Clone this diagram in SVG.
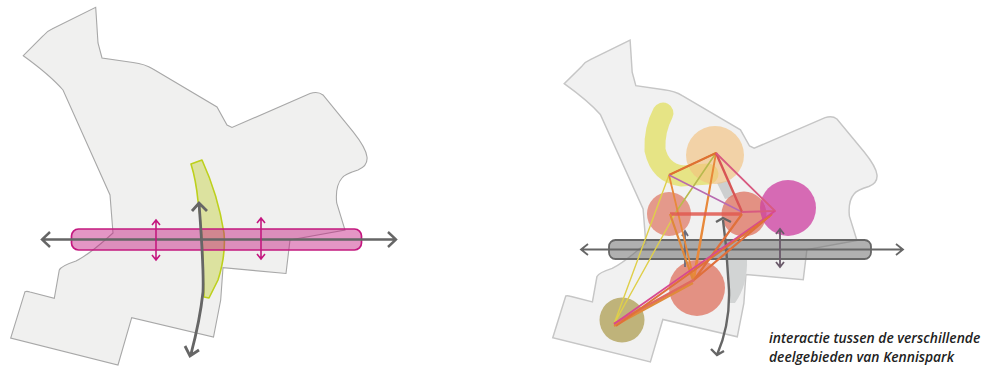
<svg xmlns="http://www.w3.org/2000/svg" width="982" height="366" viewBox="0 0 982 366">
<style>
.map{fill:#f0f0ef;stroke:#a8a8a8;stroke-width:1.1}
.g{fill:none;stroke:#666;stroke-width:2.4;stroke-linejoin:miter}
.g2{fill:none;stroke:#666;stroke-width:1.8}
.m{fill:none;stroke:#c4197f;stroke-width:1.6}
.l{fill:none;stroke-linejoin:round}
.soft{filter:url(#soft)}
text{font-family:"Open Sans","Noto Sans",sans-serif;font-style:italic;font-size:13.850px;fill:#222;font-weight:600}
</style>
<defs>
<filter id="soft" filterUnits="userSpaceOnUse" x="0" y="0" width="982" height="366"><feGaussianBlur stdDeviation=".45"/></filter>
<path id="outline" d="M95.700 7.300L98 43L102 58L133 62.500Q145 64 153 69L217 107L227 125L232 127.500L310 93.500Q318 91 323 95L353 131.700Q366 148 367 157Q368 166 358 170Q345 174 342 178Q335 186 336.700 203L345 230L290 240L286 273.500L223 267.700L220.700 300L213.500 337L131.700 317.700L118 365L10.700 338L25 291.700Q27 291 30 292L54.300 298.300L59.300 270Q61 266 76 261Q90 254 113 233L110 195L63 90Q50 75 23.300 55.700L43 36Q47 31 52 29Z"/>
</defs>
<rect width="982" height="366" fill="#fff"/>
<g id="map-left" class="soft">
<use href="#outline" class="map"/>
</g>
<g id="map-right" class="soft">
<use href="#outline" class="map" transform="translate(543 33.500) scale(.91 .9)" style="stroke-width:1.6;stroke:#c6c6c6;fill:#f1f1f1"/>
</g>
<g id="green-zone-left" class="soft">
<path d="M191 164L202 160Q218 195 224 233Q226 255 218 280L209 298L204 297L203 270Q203 235 198 201Q196 180 191 164Z" fill="#cfd86a" fill-opacity=".6" stroke="#bdd01c" stroke-width="1.6" stroke-linejoin="round"/>
</g>
<g id="bar-left" class="soft">
<rect x="71.500" y="229" width="290" height="21" rx="7" fill="#c4197f" fill-opacity=".45" stroke="#c4197f" stroke-width="1.7"/>
</g>
<g id="connectors-left" class="soft">
<path class="g" d="M43 239.500H395M50 232L42 239.500L50 247M388 232L396 239.500L388 247"/>
<path class="g" style="stroke-width:2.800" d="M199 203Q204 270 203 292Q200 320 191 354M192 211L199 203L207 211M185 346L190 356L199 350"/>
<path class="m" d="M156 221V259M152 225L156 220L160 225M152 255L156 260L160 255"/>
<path class="m" d="M261 219V258M257 223L261 218L265 223M257 254L261 259L265 254"/>
</g>
<g id="zone-u" class="soft">
<path d="M663 113Q654 130 655 150Q660 173 682 176L708 174" fill="none" stroke="#e0dc3e" stroke-opacity=".6" stroke-width="21" stroke-linecap="round"/>
</g>
<g id="zone-gray" class="soft">
<path d="M717 183L730 180L733 197L725 199Z" fill="#cdcfcf"/>
<path d="M728 258L747 258Q748 285 735 303L729 303Z" fill="#d2d4d4"/>
</g>
<g id="circles" class="soft">
<circle id="c-orange" cx="715" cy="155" r="29" fill="#f2c27e" fill-opacity=".65"/>
<circle id="c-red1" cx="669" cy="214" r="22" fill="#dd6a55" fill-opacity=".65"/>
<circle id="c-red2" cx="744" cy="214" r="22.500" fill="#dd6a55" fill-opacity=".7"/>
<circle id="c-magenta" cx="788" cy="208" r="28" fill="#cc3fa0" fill-opacity=".75"/>
<circle id="c-red3" cx="697" cy="288" r="28" fill="#dd6a55" fill-opacity=".7"/>
<circle id="c-olive" cx="622" cy="320" r="22.500" fill="#a59139" fill-opacity=".65"/>
</g>
<g id="bar-right" class="soft">
<rect x="609" y="240" width="262" height="19" rx="6.500" fill="#6f6f6f" fill-opacity=".55" stroke="#666" stroke-width="1.800"/>
</g>
<g id="connectors-right" class="soft">
<path class="g2" d="M582 249.500H902M588 244L581 249.500L588 255M896 244L903 249.500L896 255"/>
<path class="g" d="M723 220L726 246L729 290Q730 325 717 355M716 222L723 218L731 222M711 349L717 355L724 351"/>
<path class="g" style="stroke:#6a6a7a;stroke-width:1.800" d="M685 232V267M682 236L685 231L688 236"/>
<path class="g" style="stroke:#6a5a6a;stroke-width:1.800" d="M780 230V266M776 234L780 229L784 234M776 262L780 267L784 262"/>
<g>
<path class="l" stroke="#dfcf4a" stroke-width="1.400" d="M614 324L669 175M614 324L676 212"/>
<path class="l" stroke="#b9b94e" stroke-width="1.600" d="M669 175L716 153M676 212L716 153"/>
<path class="l" stroke="#e8893a" stroke-width="1.800" d="M669 175L694 280L716 153L693 280"/>
<path class="l" stroke="#e07030" stroke-width="2" d="M669 175L716 153"/>
<path class="l" stroke="#b96ab0" stroke-width="1.500" d="M669 175L742 212"/>
<path class="l" stroke="#e05a50" stroke-width="3.400" stroke-opacity=".85" d="M670 214H742"/>
<path class="l" stroke="#e0883a" stroke-width="2.200" d="M670 214L693 280"/>
<path class="l" stroke="#d85555" stroke-width="2.400" d="M716 153L742 212"/>
<path class="l" stroke="#d85a80" stroke-width="1.800" d="M716 153L775 211L742 212"/>
<path class="l" stroke="#e0703a" stroke-width="2.200" d="M694 280L742 214M694 280L772 214"/>
<path class="l" stroke="#e06a60" stroke-width="2.600" d="M614 324L694 280"/>
<path class="l" stroke="#e08a3a" stroke-width="2" d="M614 326L693 283"/>
<path class="l" stroke="#d84a90" stroke-width="1.800" d="M614 324L775 211"/>
<path class="l" stroke="#e0703a" stroke-width="2" d="M616 326L770 216"/>
</g>
</g>
<g id="caption">
<text x="769" y="343">interactie tussen de verschillende</text>
<text x="769" y="362">deelgebieden van Kennispark</text>
</g>
</svg>
